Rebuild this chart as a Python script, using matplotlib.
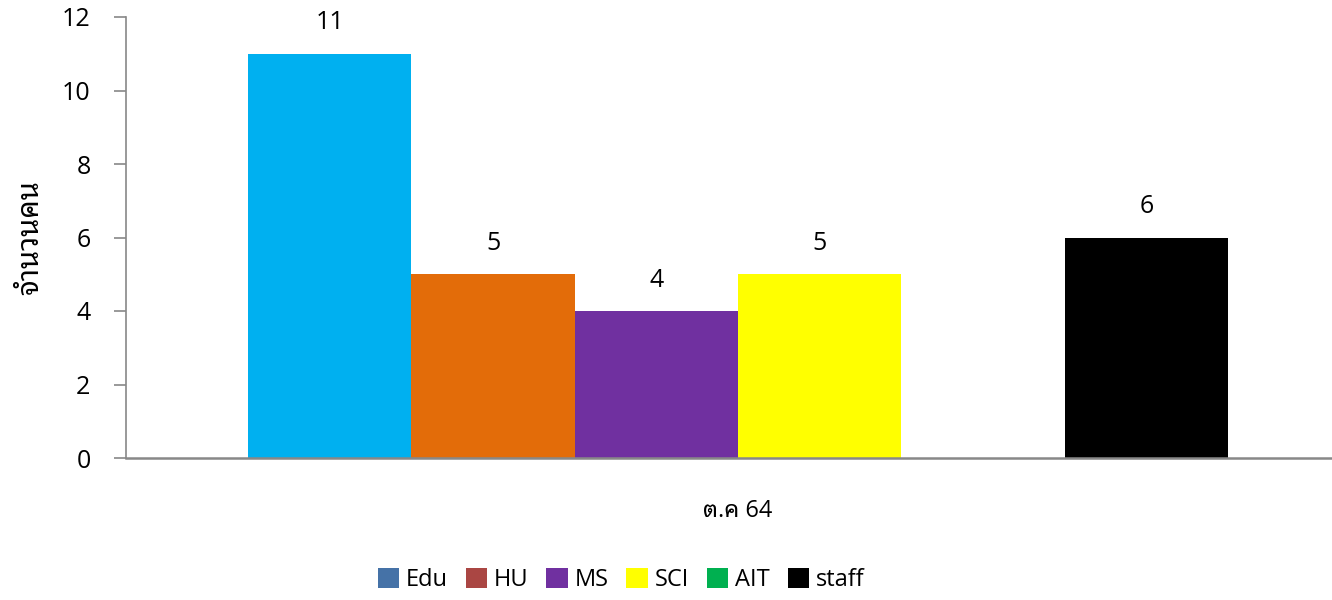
import matplotlib
matplotlib.use("Agg")
import matplotlib.pyplot as plt
from matplotlib.patches import Patch

plt.rcParams['font.family'] = ['Open Sans', 'Noto Sans Thai Looped', 'DejaVu Sans']

category = 'ต.ค 64'
series = ['Edu', 'HU', 'MS', 'SCI', 'AIT', 'staff']
values = [11, 5, 4, 5, 0, 6]
bar_colors = ['#00B0F0', '#E36C09', '#7030A0', '#FFFF00', '#00B050', '#000000']
legend_colors = ['#4572A7', '#AA4643', '#7030A0', '#FFFF00', '#00B050', '#000000']

fig = plt.figure(figsize=(13.32, 6), dpi=100)
ax = fig.add_axes([126 / 1332, 1 - 458 / 600, 1205 / 1332, 441 / 600])

n = len(series)
w = 1.0 / n
for i, (name, val) in enumerate(zip(series, values)):
    x = -0.5 + w * (i + 0.5)
    if val > 0:
        ax.bar(x, val, width=w, color=bar_colors[i], linewidth=0)
        ax.text(x, val + 0.5, str(val), ha='center', va='bottom',
                fontsize=18, color='#000000')

ax.set_xlim(-0.6245, 0.605)
ax.set_ylim(0, 12)
ax.set_yticks(range(0, 13, 2))
ax.set_xticks([])
ax.tick_params(axis='y', length=8.5, width=1.2, color='#888888',
               labelsize=18, pad=17)
for side in ['top', 'right']:
    ax.spines[side].set_visible(False)
ax.spines['left'].set_color('#888888')
ax.spines['left'].set_linewidth(1.2)
ax.spines['bottom'].set_color('#888888')
ax.spines['bottom'].set_linewidth(1.8)

ax.text(0, -1.45, category, ha='center', va='center', fontsize=17,
        transform=ax.transData)
ax.set_ylabel('จำนวนคน', fontsize=21, fontweight='bold', labelpad=12)

handles = [Patch(facecolor=c, edgecolor='none') for c in legend_colors]
fig.legend(handles, series, loc='center', bbox_to_anchor=(621 / 1332, 1 - 580 / 600),
           ncol=n, frameon=False, fontsize=17, handlelength=0.9,
           handleheight=0.9, handletextpad=0.3, columnspacing=0.75)

fig.savefig('out.png')
